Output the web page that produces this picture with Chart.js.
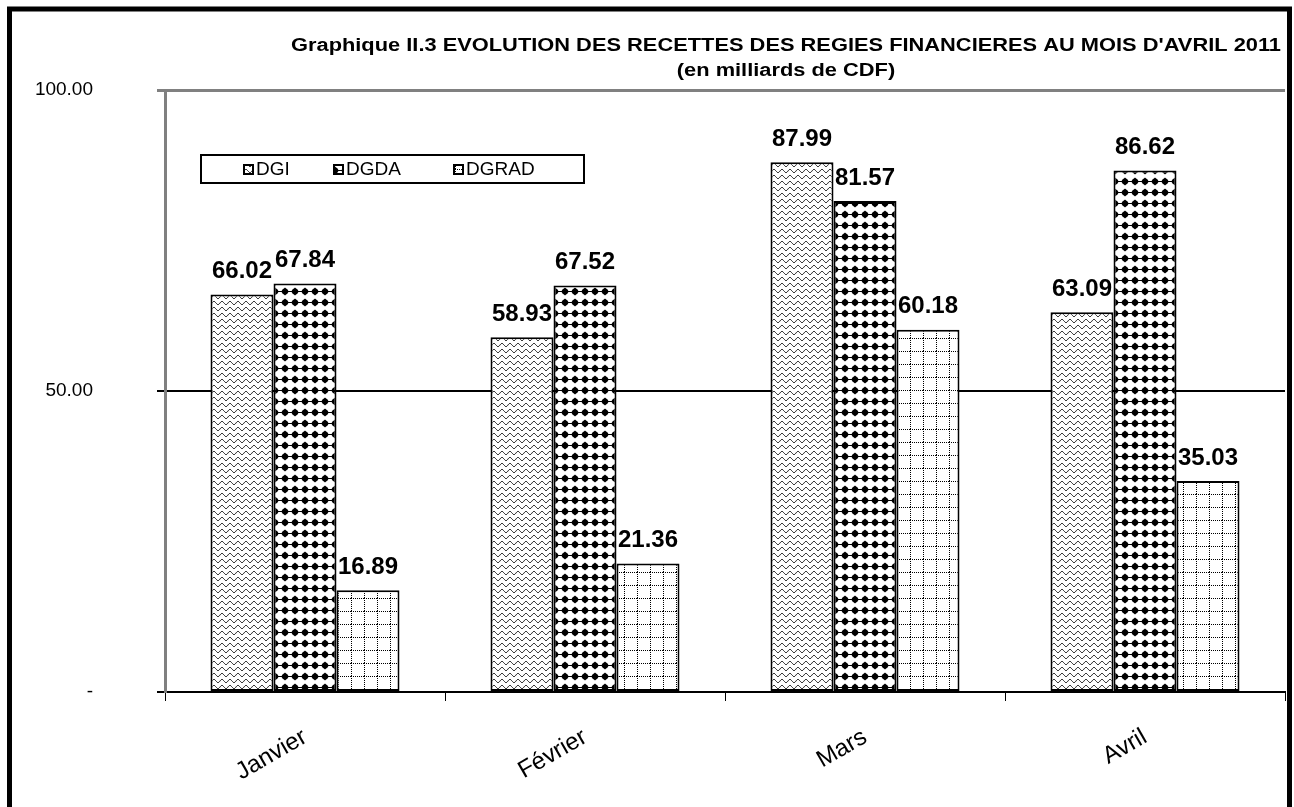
<!DOCTYPE html>
<html>
<head>
<meta charset="utf-8">
<script src="https://cdn.jsdelivr.net/npm/chart.js@4"></script>
<style>
  body { margin: 0; background: #fff; }
</style>
</head>
<body>
<canvas id="myChart" width="1294" height="807"></canvas>
<script>
var MONTHS = ['Janvier', 'Février', 'Mars', 'Avril'];
var DGI = [66.02, 58.93, 87.99, 63.09];
var DGDA = [67.84, 67.52, 81.57, 86.62];
var DGRAD = [16.89, 21.36, 60.18, 35.03];
var TITLE = [
  'Graphique II.3 EVOLUTION DES RECETTES DES REGIES FINANCIERES AU MOIS D\'AVRIL 2011',
  '(en milliards de CDF)'
];
var FONT = '"Liberation Sans", Arial, sans-serif';

// hatch patterns, drawn on small tiles
function makeTile(w, h, draw) {
  var c = document.createElement('canvas');
  c.width = w; c.height = h;
  var g = c.getContext('2d');
  g.fillStyle = '#fff';
  g.fillRect(0, 0, w, h);
  draw(g);
  return document.getElementById('myChart').getContext('2d').createPattern(c, 'repeat');
}

var wavePattern = makeTile(8, 6, function (g) {
  g.strokeStyle = '#000';
  g.lineWidth = 1;
  g.beginPath();
  for (var x = 0; x <= 8; x += 0.5) {
    var y = 3 + 1.6 * Math.sin(x / 8 * Math.PI * 2);
    if (x === 0) g.moveTo(x, y); else g.lineTo(x, y);
  }
  g.stroke();
});

var dotPattern = makeTile(10, 11, function (g) {
  g.fillStyle = '#000';
  g.beginPath();
  g.moveTo(5, 1.5);
  g.lineTo(9, 5.5);
  g.lineTo(5, 9.5);
  g.lineTo(1, 5.5);
  g.closePath();
  g.fill();
  g.beginPath();
  g.arc(5, 5.5, 3, 0, Math.PI * 2);
  g.fill();
  g.fillRect(0, 5, 10, 1);
});

var gridPattern = makeTile(13, 13, function (g) {
  g.fillStyle = '#000';
  for (var i = 0; i < 13; i += 2) {
    g.fillRect(i, 0, 1, 1);
    g.fillRect(0, i, 1, 1);
  }
});

const framePlugin = {
  id: 'frame',
  afterDraw(chart) {
    const c = chart.ctx;
    c.save();
    c.strokeStyle = '#000';
    c.lineWidth = 5;
    c.strokeRect(9.5, 9, 1280, 820);
    c.restore();
    // title, stretched wide like the original
    c.save();
    c.fillStyle = '#000';
    c.font = 'bold 18px ' + FONT;
    c.textAlign = 'center';
    c.textBaseline = 'middle';
    const sx = 990 / c.measureText(TITLE[0]).width;
    c.translate(786, 0);
    c.scale(sx, 1);
    c.fillText(TITLE[0], 0, 46);
    c.fillText(TITLE[1], 0, 71);
    c.restore();
  }
};

const valueLabels = {
  id: 'valueLabels',
  afterDatasetsDraw(chart) {
    const c = chart.ctx;
    c.save();
    c.fillStyle = '#000';
    c.font = 'bold 24px ' + FONT;
    c.textAlign = 'center';
    c.textBaseline = 'bottom';
    chart.data.datasets.forEach(function (ds, i) {
      chart.getDatasetMeta(i).data.forEach(function (bar, j) {
        c.fillText(ds.data[j].toFixed(2), bar.x, bar.y - 11);
      });
    });
    c.restore();
  }
};

const boxLegend = {
  id: 'boxLegend',
  afterDraw(chart) {
    const c = chart.ctx;
    const a = chart.chartArea;
    const x0 = a.left + 36, y0 = a.top + 65;
    c.save();
    c.fillStyle = '#fff';
    c.fillRect(x0, y0, 383, 28);
    c.strokeStyle = '#000';
    c.lineWidth = 2;
    c.strokeRect(x0, y0, 383, 28);
    c.font = '19px ' + FONT;
    c.textBaseline = 'middle';
    const offs = [42, 132, 252];
    chart.data.datasets.forEach(function (ds, i) {
      const bx = x0 + offs[i];
      c.fillStyle = '#000';
      c.fillRect(bx, y0 + 9, 11, 11);
      c.fillStyle = ds.backgroundColor;
      c.fillRect(bx + 2, y0 + 11, 7, 7);
      c.fillStyle = '#000';
      c.fillText(ds.label, bx + 13, y0 + 15);
    });
    c.restore();
  }
};

const ctx = document.getElementById('myChart');
new Chart(ctx, {
  type: 'bar',
  data: {
    labels: MONTHS,
    datasets: [
      { label: 'DGI', data: DGI, backgroundColor: wavePattern },
      { label: 'DGDA', data: DGDA, backgroundColor: dotPattern },
      { label: 'DGRAD', data: DGRAD, backgroundColor: gridPattern }
    ]
  },
  options: {
    responsive: false,
    animation: false,
    layout: { padding: { top: 90, right: 9, left: 0, bottom: 0 } },
    datasets: {
      bar: {
        borderColor: '#000',
        borderWidth: 2,
        borderSkipped: false,
        categoryPercentage: 0.675,
        barPercentage: 1
      }
    },
    plugins: {
      legend: { display: false },
      title: { display: false },
      tooltip: { enabled: false }
    },
    scales: {
      x: {
        afterFit: function (s) { s.height = 115; },
        grid: {
          drawOnChartArea: false,
          color: '#000',
          tickLength: 9,
          lineWidth: 1
        },
        border: { color: '#000', width: 2 },
        ticks: {
          color: '#000',
          minRotation: 30,
          maxRotation: 30,
          padding: 22,
          font: { family: FONT, size: 24 }
        }
      },
      y: {
        min: 0,
        max: 100,
        afterFit: function (s) { s.width = 165; },
        grid: {
          color: function (c) { return c.tick.value === 100 ? '#808080' : '#000'; },
          lineWidth: function (c) { return c.tick.value === 100 ? 3 : 2; },
          tickLength: 8
        },
        border: { color: '#808080', width: 3 },
        ticks: {
          stepSize: 50,
          color: '#000',
          padding: 64,
          font: { family: FONT, size: 19 },
          callback: function (v) { return v === 0 ? '-' : v.toFixed(2); }
        }
      }
    }
  },
  plugins: [framePlugin, valueLabels, boxLegend]
});
</script>
</body>
</html>
